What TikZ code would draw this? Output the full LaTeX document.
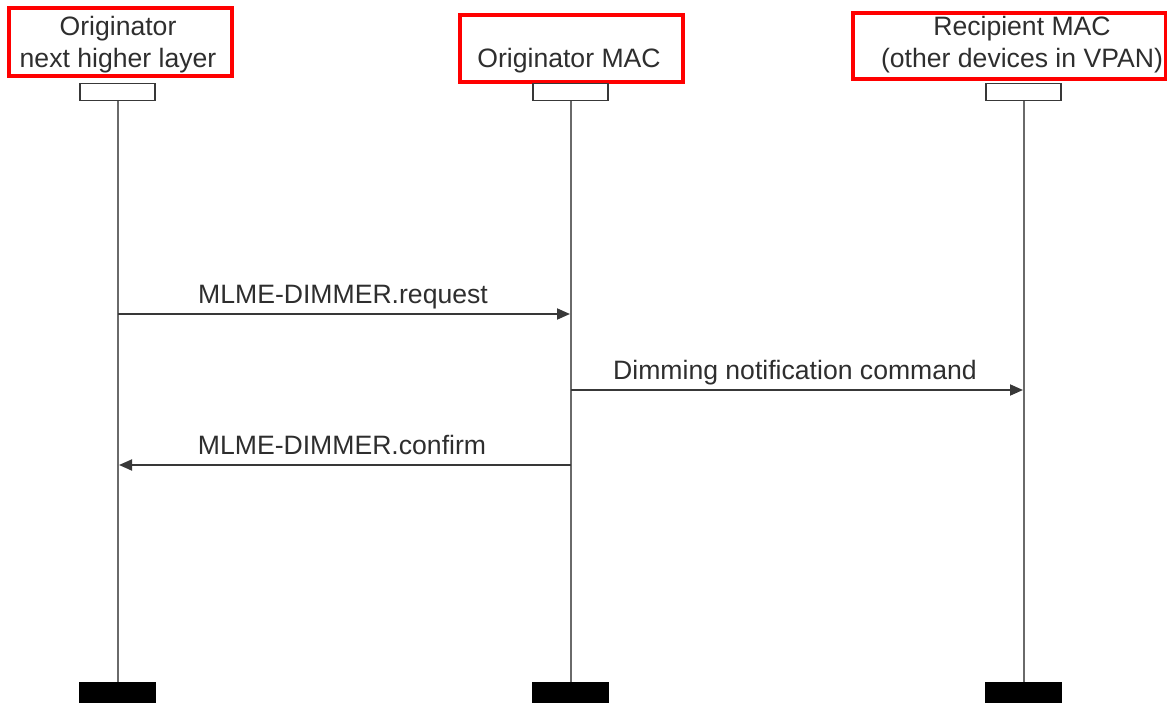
\documentclass[tikz,border=0pt]{standalone}
\usepackage{fontspec}
\setmainfont{Liberation Sans}
\usetikzlibrary{arrows.meta}
\definecolor{txt}{HTML}{2E2E2E}
\definecolor{ln}{HTML}{383838}
\begin{document}
\begin{tikzpicture}[x=1pt,y=-1pt,
  lbl/.style={font=\fontsize{26.6}{31}\selectfont, text=txt, inner sep=0pt, anchor=base},
  redbox/.style={draw=red, line width=4pt, inner sep=0pt, anchor=north west},
  headbox/.style={draw=ln, line width=1.8pt, fill=white, minimum width=75pt, minimum height=17pt, inner sep=0pt},
  footbox/.style={draw=black, fill=black, minimum width=76pt, minimum height=22pt, inner sep=0pt},
  life/.style={draw=ln!75, line width=2pt},
  msg/.style={draw=ln, line width=1.8pt, -{Triangle[length=13pt,width=11pt]}}]
\useasboundingbox (0,0) rectangle (1167,703);
% red frames
\node[redbox, minimum width=223pt, minimum height=68pt] (r1) at (7,6.5) {};
\node[redbox, minimum width=223pt, minimum height=67pt] (r2) at (458,13) {};
\node[redbox, minimum width=313pt, minimum height=66pt] (r3) at (851,11) {};
% headings
\node[lbl] (t1a) at (118,36) {Originator};
\node[lbl] (t1b) at (118,68) {next higher layer};
\node[lbl] (t2) at (569,68) {Originator MAC};
\node[lbl] (t3a) at (1022,36) {Recipient MAC};
\node[lbl] (t3b) at (1022,68) {(other devices in VPAN)};
% head and foot boxes
\node[headbox] (h1) at (117.5,92) {};
\node[headbox] (h2) at (570.5,92) {};
\node[headbox] (h3) at (1023.5,92) {};
\node[footbox] (f1) at (117.5,693) {};
\node[footbox] (f2) at (570.5,693) {};
\node[footbox] (f3) at (1023.5,693) {};
% lifelines
\draw[life] (h1.south) -- (f1.north);
\draw[life] (h2.south) -- (f2.north);
\draw[life] (h3.south) -- (f3.north);
% messages
\coordinate (a1) at (118,314); \coordinate (b1) at (570,314);
\coordinate (a2) at (571,390); \coordinate (b2) at (1023,390);
\coordinate (a3) at (571,465); \coordinate (b3) at (119,465);
\draw[msg] (a1) -- (b1);
\draw[msg] (a2) -- (b2);
\draw[msg] (a3) -- (b3);
\node[lbl] (m1) at (343,303) {MLME-DIMMER.request};
\node[lbl] (m2) at (795,379) {Dimming notification command};
\node[lbl] (m3) at (342,454) {MLME-DIMMER.confirm};
\end{tikzpicture}
\end{document}
